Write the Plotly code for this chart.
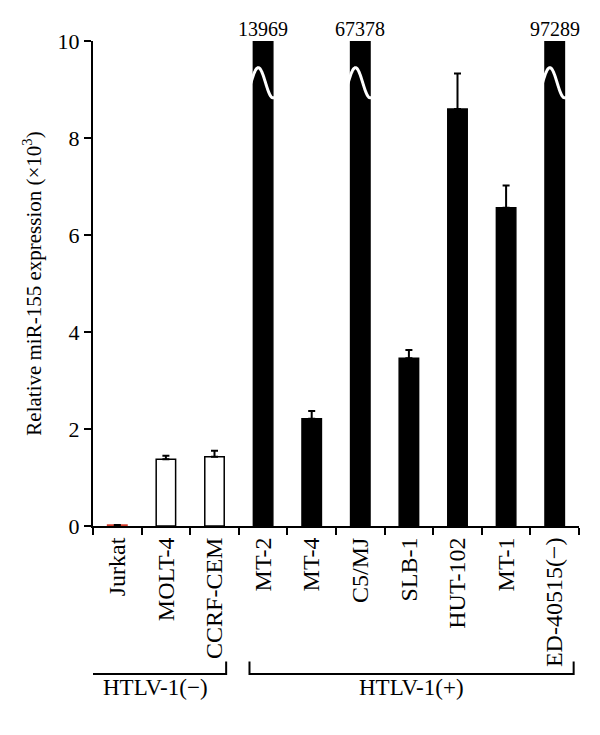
import numpy as np
import plotly.graph_objects as go

# datos (x10^3)
lineas = ["Jurkat", "MOLT-4", "CCRF-CEM", "MT-2", "MT-4", "C5/MJ",
          "SLB-1", "HUT-102", "MT-1", "ED-40515(\u2212)"]
expresion = [0.02, 1.375, 1.43, 13.969, 2.21, 67.378, 3.46, 8.6, 6.56, 97.289]
error_sup = [None, 0.075, 0.12, None, 0.16, None, 0.17, 0.73, 0.46, None]
htlv_pos = [False, False, False, True, True, True, True, True, True, True]

# barras cortadas con su valor escrito encima
cortadas = ["MT-2", "C5/MJ", "ED-40515(\u2212)"]
etiquetas_cortadas = ["13969", "67378", "97289"]

grupos = ["HTLV-1(\u2212)", "HTLV-1(+)"]
grupo_x0 = [-0.66, 2.72]
grupo_x1 = [2.24, 9.39]

FUENTE = "Liberation Serif, Times New Roman, serif"
ancho_barra = 0.4

relleno = []
borde = []
for nombre, pos in zip(lineas, htlv_pos):
    if nombre == "Jurkat":
        relleno.append("#d23a2a")
        borde.append("#d23a2a")
    elif pos:
        relleno.append("black")
        borde.append("black")
    else:
        relleno.append("white")
        borde.append("black")

fig = go.Figure()

fig.add_trace(go.Bar(
    x=lineas, y=expresion, width=ancho_barra,
    marker=dict(color=relleno, line=dict(color=borde, width=1.5)),
    error_y=dict(type="data", symmetric=False, array=error_sup,
                 arrayminus=[0] * len(lineas), color="black",
                 thickness=2, width=3.5),
    showlegend=False, hoverinfo="x+y"))

# marca de corte (onda blanca) sobre las barras cortadas
for nombre in cortadas:
    i = lineas.index(nombre)
    u = np.linspace(-0.15, 1.15, 60)
    fase = np.clip((u - 0.25) / 0.75, -1, 1)
    yy = 9.45 - 0.62 * (1 - np.cos(np.pi * fase)) / 2
    fig.add_trace(go.Scatter(
        x=i - ancho_barra / 2 + u * ancho_barra, y=yy, xaxis="x2",
        mode="lines", line=dict(color="white", width=3, shape="spline"),
        showlegend=False, hoverinfo="skip"))

anotaciones = []
for nombre, txt in zip(cortadas, etiquetas_cortadas):
    anotaciones.append(dict(x=lineas.index(nombre), y=10, xref="x2", yref="y",
                            text=txt, showarrow=False, yanchor="bottom",
                            yshift=-1, font=dict(family=FUENTE, size=20, color="black")))

formas = []
for g, x0, x1 in zip(grupos, grupo_x0, grupo_x1):
    formas.append(dict(type="path", xref="x2", yref="paper",
                       path=f"M {x0},-0.2796 L {x0},-0.305 L {x1},-0.305 L {x1},-0.2796",
                       line=dict(color="black", width=2)))
    anotaciones.append(dict(x=(x0 + x1) / 2, y=-0.334, xref="x2", yref="paper",
                            text=g, showarrow=False, yanchor="middle",
                            font=dict(family=FUENTE, size=23, color="black")))

# el body de la pagina tiene 8px de margen: se compensa en los margenes
fig.update_layout(
    width=600, height=735,
    margin=dict(l=85, r=29, t=33, b=217, autoexpand=False),
    plot_bgcolor="white", paper_bgcolor="white",
    font=dict(family=FUENTE, color="black", size=22),
    xaxis=dict(type="category", range=[-0.5, 9.5], tickangle=-90,
               showline=True, linecolor="black", linewidth=2,
               ticks="outside", tickson="boundaries", ticklen=7,
               tickwidth=2, tickcolor="black", showgrid=False,
               tickfont=dict(family=FUENTE, size=24)),
    xaxis2=dict(overlaying="x", range=[-0.5, 9.5], visible=False),
    yaxis=dict(range=[0, 10], tickvals=[0, 2, 4, 6, 8, 10],
               showline=True, linecolor="black", linewidth=2,
               ticks="outside", ticklen=7, tickwidth=2, tickcolor="black",
               showgrid=False, zeroline=False,
               tickfont=dict(family=FUENTE, size=22),
               title=dict(text="Relative miR-155 expression (\u00d710<sup>3</sup>)",
                          font=dict(family=FUENTE, size=21), standoff=10)),
    annotations=anotaciones,
    shapes=formas,
    bargap=0.6,
)

fig.write_html("out.html")
